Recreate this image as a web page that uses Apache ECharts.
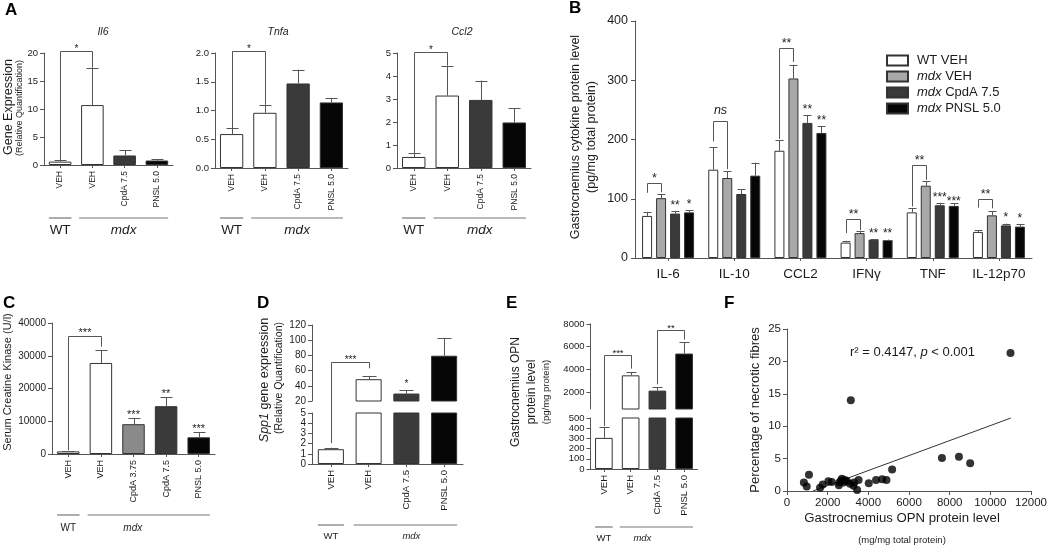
<!DOCTYPE html>
<html>
<head>
<meta charset="utf-8">
<script src="https://cdn.jsdelivr.net/npm/echarts@6/dist/echarts.min.js"></script>
<style>
html,body{margin:0;padding:0;background:#ffffff;}
#c{width:1050px;height:548px;}
</style>
</head>
<body>
<div id="c"></div>
<script>
// ---------------- DATA ----------------
// Panel A: gene expression (relative quantification), mean and SEM
const geneCats = ['VEH', 'VEH', 'CpdA 7.5', 'PNSL 5.0'];
const il6Mean = [0.6, 10.7, 1.7, 0.8];
const il6Sem = [0.3, 6.7, 0.9, 0.25];
const tnfaMean = [0.59, 0.96, 1.47, 1.14];
const tnfaSem = [0.10, 0.14, 0.24, 0.08];
const ccl2Mean = [0.48, 3.15, 2.96, 1.98];
const ccl2Sem = [0.18, 1.30, 0.84, 0.62];

// Panel B: cytokine protein level (pg/mg total protein)
const cytoCats = ['IL-6', 'IL-10', 'CCL2', 'IFNγ', 'TNF', 'IL-12p70'];
const cytoGroups = ['WT VEH', 'mdx VEH', 'mdx CpdA 7.5', 'mdx PNSL 5.0'];
const wtVehMean = [71, 149, 181, 26, 77, 44];
const wtVehSem = [6, 38, 18, 3, 7, 3];
const mdxVehMean = [101, 135, 303, 42, 122, 72];
const mdxVehSem = [7, 11, 23, 3, 8, 7];
const mdxCpdaMean = [75, 108, 228, 31, 89, 55];
const mdxCpdaSem = [4, 8, 13, 1, 4, 3];
const mdxPnslMean = [77, 139, 211, 30, 88, 53];
const mdxPnslSem = [4, 22, 11, 1, 4, 4];
const cytoStars = [['**', '*'], ['', ''], ['**', '**'], ['**', '**'], ['***', '***'], ['*', '*']];

// Panel C: serum creatine kinase (U/l)
const ckCats = ['VEH', 'VEH', 'CpdA 3.75', 'CpdA 7.5', 'PNSL 5.0'];
const ckMean = [800, 27800, 9100, 14600, 5100];
const ckSem = [200, 3900, 1900, 2700, 1500];
const ckStars = ['', '', '***', '**', '***'];

// Panel D: Spp1 gene expression
const spp1Cats = ['VEH', 'VEH', 'CpdA 7.5', 'PNSL 5.0'];
const spp1Mean = [1.45, 48.7, 29.8, 79.6];
const spp1Sem = [0.15, 4.3, 4.4, 23.0];
const spp1Stars = ['', '', '*', ''];

// Panel E: OPN protein level
const opnCats = ['VEH', 'VEH', 'CpdA 7.5', 'PNSL 5.0'];
const opnMean = [305, 3470, 2120, 5390];
const opnSem = [105, 295, 320, 1020];
const opnUpperTicks = [2000, 4000, 6000, 8000];

// Panel F: necrotic fibres vs OPN
const necrosisPoints = [
  [830, 1.3], [970, 0.7], [1080, 2.5], [1625, 0.5], [1760, 1.0], [2035, 1.5],
  [2200, 1.4], [2550, 0.9], [2575, 1.3], [2650, 1.6], [2700, 1.9], [2780, 1.3],
  [2850, 1.7], [2950, 1.5], [3100, 1.1], [3138, 14.0], [3270, 0.8], [3300, 1.3],
  [3450, 0.15], [3520, 1.7], [4020, 1.2], [4380, 1.7], [4680, 1.8], [4890, 1.7],
  [5170, 3.3], [7620, 5.1], [8455, 5.3], [9008, 4.3], [10992, 21.3]
];
const regressionLine = [[1270, 0], [11000, 11.25]];

// Significance brackets: [grid of top, top value, [grid, cat, slot, leg bottom value] x2, label]
const sigBrackets = [
  [0, 20.3, [0, 0, null, 0.9], [0, 1, null, 17.4], '*'],
  [1, 2.03, [1, 0, null, 0.69], [1, 1, null, 1.10], '*'],
  [2, 5.06, [2, 0, null, 0.66], [2, 1, null, 4.45], '*'],
  [3, 127, [3, 0, 0, 110], [3, 0, 1, 111], '*'],
  [3, 232, [3, 1, 0, 197], [3, 1, 1, 150], 'ns'],
  [3, 354, [3, 2, 0, 201], [3, 2, 1, 331], '**'],
  [3, 65, [3, 3, 0, 42], [3, 3, 1, 47], '**'],
  [3, 157, [3, 4, 0, 87], [3, 4, 1, 132], '**'],
  [3, 100, [3, 5, 0, 85], [3, 5, 1, 84], '**'],
  [4, 35900, [4, 0, null, 1200], [4, 1, null, 32800], '***'],
  [5, 71.6, [6, 0, null, 2.05], [5, 1, null, 63], '***'],
  [7, 5300, [8, 0, null, 420], [7, 1, null, 4065], '***'],
  [7, 7500, [7, 2, null, 2680], [7, 3, null, 6620], '**']
];

// ---------------- STYLE / LAYOUT ----------------
const FONT = '"Liberation Sans", Arial, Helvetica, sans-serif';
const INK = '#1c1c1c';
const AXC = '#555555';
const WHITE = '#ffffff', GREY = '#a8a8a8', MIDGREY = '#8a8a8a', DARK = '#3a3a3a', BLACK = '#060606';
const geneColors = [WHITE, WHITE, DARK, BLACK];
const ckColors = [WHITE, WHITE, MIDGREY, DARK, BLACK];
const groupColors = [WHITE, GREY, DARK, BLACK];
const plain = function (v) { return String(v); };

const gridRects = [
  {left: 44, top: 53, width: 129, height: 112},     // 0 A Il6
  {left: 215, top: 53, width: 133, height: 115},    // 1 A Tnfa
  {left: 397, top: 53, width: 134, height: 115},    // 2 A Ccl2
  {left: 635, top: 21, width: 397, height: 237},    // 3 B
  {left: 52, top: 323, width: 163, height: 131},    // 4 C
  {left: 312, top: 325, width: 151, height: 76},    // 5 D upper
  {left: 312, top: 413, width: 151, height: 51},    // 6 D lower
  {left: 590.5, top: 324, width: 107, height: 85},  // 7 E upper
  {left: 590.5, top: 418, width: 107, height: 51},  // 8 E lower
  {left: 787, top: 329, width: 246, height: 162}    // 9 F
];
const BAR_SLOT = 14; // panel B: barWidth 10 + gap 4
function slotOffset(s) { return s == null ? 0 : (s - 1.5) * BAR_SLOT; }

function yAx(g, min, max, interval, fs, extra) {
  return Object.assign({
    type: 'value', gridIndex: g, min: min, max: max, interval: interval,
    axisLine: {show: true, lineStyle: {color: AXC, width: 1}},
    axisTick: {show: true, length: 4, lineStyle: {color: AXC}},
    splitLine: {show: false},
    axisLabel: {fontSize: fs, color: INK, fontFamily: FONT, margin: 6, formatter: plain}
  }, extra || {});
}
function xCat(g, cats, fs, show) {
  return {
    type: 'category', gridIndex: g, data: cats, show: show !== false,
    axisLine: {show: true, onZero: false, lineStyle: {color: AXC, width: 1}},
    axisTick: {show: true, alignWithLabel: true, length: 3, lineStyle: {color: AXC}},
    axisLabel: {rotate: 90, fontSize: fs, color: INK, fontFamily: FONT, margin: 6, interval: 0}
  };
}
function barSeries(g, means, colors, width) {
  return {
    type: 'bar', xAxisIndex: g, yAxisIndex: g, barWidth: width, clip: true, silent: true, animation: false,
    data: means.map(function (v, i) {
      return {value: v, itemStyle: {color: colors[i], borderColor: '#333333', borderWidth: 1}};
    })
  };
}
function errSeries(g, means, sems, offset, capHalf, lo, hi) {
  return {
    type: 'custom', xAxisIndex: g, yAxisIndex: g, z: 5, silent: true, animation: false, clip: false,
    encode: {x: 0, y: 1},
    data: means.map(function (m, i) { return [i, m, sems[i]]; }),
    renderItem: function (params, api) {
      var i = api.value(0), m = api.value(1), s = api.value(2), t = m + s;
      if (m < lo || t > hi + 1e-9) return null;
      var p0 = api.coord([i, m]), p1 = api.coord([i, t]);
      var x = Math.round(p0[0] + offset) + 0.5;
      return {type: 'group', children: [
        {type: 'line', shape: {x1: x, y1: p0[1], x2: x, y2: p1[1]}, style: {stroke: AXC, lineWidth: 1}},
        {type: 'line', shape: {x1: x - capHalf, y1: Math.round(p1[1]) + 0.5, x2: x + capHalf, y2: Math.round(p1[1]) + 0.5}, style: {stroke: AXC, lineWidth: 1}}
      ]};
    }
  };
}

const xAxes = [
  xCat(0, geneCats, 8.5), xCat(1, geneCats, 8.5), xCat(2, geneCats, 8.5),
  Object.assign(xCat(3, cytoCats, 13.5), {axisLabel: {rotate: 0, fontSize: 13.5, color: INK, fontFamily: FONT, margin: 9, interval: 0}}),
  xCat(4, ckCats, 9), xCat(5, spp1Cats, 9.5, false), xCat(6, spp1Cats, 9.5),
  xCat(7, opnCats, 9.5, false), xCat(8, opnCats, 9.5),
  {type: 'value', gridIndex: 9, min: 0, max: 12000, interval: 2000,
   axisLine: {show: true, onZero: false, lineStyle: {color: AXC}}, axisTick: {show: true, length: 4, lineStyle: {color: AXC}},
   splitLine: {show: false}, axisLabel: {fontSize: 11.5, color: INK, fontFamily: FONT, margin: 6, formatter: plain}}
];
const yAxes = [
  yAx(0, 0, 20, 5, 9.5),
  yAx(1, 0, 2, 0.5, 9.5, {axisLabel: {fontSize: 9.5, color: INK, fontFamily: FONT, margin: 6, formatter: function (v) { return v.toFixed(1); }}}),
  yAx(2, 0, 5, 1, 9.5),
  yAx(3, 0, 400, 100, 12.5, {axisLabel: {fontSize: 12.5, color: INK, fontFamily: FONT, margin: 7, formatter: plain}}),
  yAx(4, 0, 40000, 10000, 10),
  yAx(5, 20, 120, 20, 10),
  yAx(6, 0, 5, 1, 10),
  yAx(7, 500, 8000, 500, 9.5, {
    axisLabel: {fontSize: 9.5, color: INK, fontFamily: FONT, margin: 6, customValues: opnUpperTicks,
      formatter: function (v) { return opnUpperTicks.indexOf(v) >= 0 ? String(v) : ''; }},
    axisTick: {show: true, length: 4, lineStyle: {color: AXC}, customValues: opnUpperTicks}
  }),
  yAx(8, 0, 500, 100, 9.5),
  yAx(9, 0, 25, 5, 11.5)
];

const series = [
  barSeries(0, il6Mean, geneColors, '70%'), errSeries(0, il6Mean, il6Sem, 0, 6, 0, 20),
  barSeries(1, tnfaMean, geneColors, '70%'), errSeries(1, tnfaMean, tnfaSem, 0, 6, 0, 2),
  barSeries(2, ccl2Mean, geneColors, '70%'), errSeries(2, ccl2Mean, ccl2Sem, 0, 6, 0, 5),
  barSeries(4, ckMean, ckColors, '69%'), errSeries(4, ckMean, ckSem, 0, 6, 0, 40000),
  barSeries(5, spp1Mean, geneColors, '69%'), errSeries(5, spp1Mean, spp1Sem, 0, 7, 20, 120),
  barSeries(6, spp1Mean, geneColors, '69%'), errSeries(6, spp1Mean, spp1Sem, 0, 7, 0, 5),
  barSeries(7, opnMean, geneColors, '66%'), errSeries(7, opnMean, opnSem, 0, 5, 500, 8000),
  barSeries(8, opnMean, geneColors, '66%'), errSeries(8, opnMean, opnSem, 0, 5, 0, 500),
  {type: 'scatter', xAxisIndex: 9, yAxisIndex: 9, data: necrosisPoints, symbolSize: 8,
   itemStyle: {color: '#000000'}, silent: true, animation: false, z: 4},
  {type: 'line', xAxisIndex: 9, yAxisIndex: 9, data: regressionLine, showSymbol: false, symbol: 'none',
   lineStyle: {color: '#333333', width: 1}, silent: true, animation: false, z: 3}
];
const cytoMeans = [wtVehMean, mdxVehMean, mdxCpdaMean, mdxPnslMean];
const cytoSems = [wtVehSem, mdxVehSem, mdxCpdaSem, mdxPnslSem];
cytoGroups.forEach(function (name, k) {
  series.push({
    type: 'bar', name: name, xAxisIndex: 3, yAxisIndex: 3, barWidth: 10, barGap: '40%', silent: true, animation: false,
    itemStyle: {color: groupColors[k], borderColor: '#333333', borderWidth: 1},
    data: cytoMeans[k]
  });
});
cytoGroups.forEach(function (name, k) {
  series.push(errSeries(3, cytoMeans[k], cytoSems[k], slotOffset(k), 4, 0, 400));
});

const option = {
  backgroundColor: '#ffffff',
  animation: false,
  textStyle: {fontFamily: FONT},
  grid: gridRects.map(function (r) { return Object.assign({containLabel: false}, r); }),
  xAxis: xAxes,
  yAxis: yAxes,
  legend: {
    data: cytoGroups, orient: 'vertical', left: 886, top: 54, padding: 0, itemWidth: 21, itemHeight: 10, itemGap: 3,
    icon: 'rect', selectedMode: false,
    textStyle: {fontSize: 13, color: INK, fontFamily: FONT, padding: [0, 0, 0, 4],
      rich: {i: {fontStyle: 'italic', fontSize: 13, color: INK, fontFamily: FONT}, n: {fontSize: 13, color: INK, fontFamily: FONT}}},
    formatter: function (n) { return n.indexOf('mdx') === 0 ? '{i|mdx}{n|' + n.slice(3) + '}' : '{n|' + n + '}'; }
  },
  series: series
};

const chart = echarts.init(document.getElementById('c'), null, {renderer: 'canvas'});
chart.setOption(option);

// ---------------- ANNOTATIONS (positioned via the chart's own scales) ----------------
function P(g, x, y) { return chart.convertToPixel({xAxisIndex: g, yAxisIndex: g}, [x, y]); }
function txt(x, y, text, fs, o) {
  o = o || {};
  return {type: 'text', x: x, y: y, rotation: o.rot || 0, silent: true, z: 60,
    style: {text: text, fontSize: fs, fontFamily: FONT, fill: o.color || INK,
      fontStyle: o.italic ? 'italic' : 'normal', fontWeight: o.bold ? 'bold' : 'normal',
      textAlign: o.align || 'center', align: o.align || 'center',
      textVerticalAlign: o.va || 'middle', verticalAlign: o.va || 'middle', rich: o.rich}};
}
function seg(x1, y1, x2, y2, color, w) {
  return {type: 'line', silent: true, z: 55, shape: {x1: x1, y1: y1, x2: x2, y2: y2}, style: {stroke: color || AXC, lineWidth: w || 1}};
}
function star(x, cy, text, fs) {
  if (text === 'ns') return txt(x, cy, text, fs, {italic: true});
  return txt(x, cy + 0.24 * fs, text, fs);
}
const els = [];

// brackets
const bracketStyle = {0: [10, 5], 1: [10, 5], 2: [10, 5], 3: [12.5, 8], 4: [11, 6.5], 5: [10, 5], 7: [9.5, 4.5]};
sigBrackets.forEach(function (b) {
  var gt = b[0], topV = b[1], A = b[2], B = b[3], lab = b[4];
  var xa = Math.round(P(A[0], A[1], 0)[0] + slotOffset(A[2])) + 0.5;
  var xb = Math.round(P(B[0], B[1], 0)[0] + slotOffset(B[2])) + 0.5;
  var ya = P(A[0], A[1], A[3])[1], yb = P(B[0], B[1], B[3])[1];
  var yt = Math.round(P(gt, 0, topV)[1]) + 0.5;
  els.push({type: 'polyline', silent: true, z: 55, shape: {points: [[xa, ya], [xa, yt], [xb, yt], [xb, yb]]},
    style: {stroke: AXC, lineWidth: 1, fill: null}});
  var st = bracketStyle[gt];
  var gap = lab === 'ns' ? 11 : st[1];
  els.push(star((xa + xb) / 2, yt - gap, lab, st[0]));
});
// stars above bars, panel B
cytoStars.forEach(function (pair, c) {
  pair.forEach(function (lab, j) {
    if (!lab) return;
    var k = j + 2;
    var p = P(3, c, cytoMeans[k][c] + cytoSems[k][c]);
    els.push(star(p[0] + slotOffset(k), p[1] - 8.5 + (lab === '***' && j === 1 ? 4 : 0), lab, 12));
  });
});
ckStars.forEach(function (lab, i) {
  if (!lab) return;
  var p = P(4, i, ckMean[i] + ckSem[i]);
  els.push(star(p[0], p[1] - 6, lab, 11));
});
spp1Stars.forEach(function (lab, i) {
  if (!lab) return;
  var p = P(5, i, spp1Mean[i] + spp1Sem[i]);
  els.push(star(p[0], p[1] - 8, lab, 10));
});

// WT / mdx group rules
const groupLayout = [
  {g: 0, n: 4, ratio: 0.70, lineY: 218, textY: 230, fs: 13.5, dx: 0},
  {g: 1, n: 4, ratio: 0.70, lineY: 218, textY: 230, fs: 13.5, dx: 0},
  {g: 2, n: 4, ratio: 0.70, lineY: 218, textY: 230, fs: 13.5, dx: 0},
  {g: 4, n: 5, ratio: 0.69, lineY: 515, textY: 528, fs: 10, dx: -16},
  {g: 6, n: 4, ratio: 0.69, lineY: 525, textY: 536, fs: 9.5, dx: 6},
  {g: 8, n: 4, ratio: 0.66, lineY: 527, textY: 538, fs: 9.5, dx: -14}
];
groupLayout.forEach(function (L) {
  var cw = gridRects[L.g].width / L.n, hb = cw * L.ratio / 2;
  var c0 = P(L.g, 0, 0)[0], c1 = P(L.g, 1, 0)[0], cn = P(L.g, L.n - 1, 0)[0];
  els.push(seg(c0 - hb, L.lineY, c0 + hb, L.lineY, '#777777', 1.2));
  els.push(seg(c1 - hb - 2, L.lineY, cn + hb, L.lineY, '#777777', 1.2));
  els.push(txt(c0, L.textY, 'WT', L.fs));
  els.push(txt((c1 - hb - 2 + cn + hb) / 2 + L.dx, L.textY, 'mdx', L.fs, {italic: true}));
});

// panel letters
[['A', 5, 2], ['B', 569, 0], ['C', 3, 295], ['D', 257, 295], ['E', 506, 295], ['F', 724, 295]].forEach(function (a) {
  els.push(txt(a[1], a[2], a[0], 17, {bold: true, align: 'left', va: 'top', color: '#000'}));
});
// panel A titles
els.push(txt(103, 32, 'Il6', 10.5, {italic: true}));
els.push(txt(278, 32, 'Tnfa', 10.5, {italic: true}));
els.push(txt(462, 32, 'Ccl2', 10.5, {italic: true}));
// axis names
var R = Math.PI / 2;
els.push(txt(9, 107, 'Gene Expression', 12.5, {rot: R}));
els.push(txt(20, 108, '(Relative Quantification)', 9, {rot: R}));
els.push(txt(576, 137, 'Gastrocnemius cytokine protein level', 12.5, {rot: R}));
els.push(txt(592, 137, '(pg/mg total protein)', 12.5, {rot: R}));
els.push(txt(8, 382, 'Serum Creatine Kinase (U/l)', 11, {rot: R}));
els.push(txt(265, 380, '{i|Spp1} gene expression', 12.5, {rot: R, rich: {i: {fontStyle: 'italic', fontSize: 12.5, fontFamily: FONT, fill: INK}}}));
els.push(txt(279, 378, '(Relative Quantification)', 10.5, {rot: R}));
els.push(txt(516, 392, 'Gastrocnemius OPN', 12, {rot: R}));
els.push(txt(532, 392, 'protein level', 12, {rot: R}));
els.push(txt(546, 392, '(pg/mg protein)', 9.5, {rot: R}));
els.push(txt(755, 410, 'Percentage of necrotic fibres', 13, {rot: R}));
els.push(txt(902, 518, 'Gastrocnemius OPN protein level', 13.2));
els.push(txt(902, 540, '(mg/mg total protein)', 9.5));
els.push(txt(850, 352, '{n|r² = 0.4147, }{i|p}{n| < 0.001}', 13, {align: 'left',
  rich: {n: {fontSize: 13, fontFamily: FONT, fill: INK}, i: {fontSize: 13, fontFamily: FONT, fontStyle: 'italic', fill: INK}}}));

chart.setOption({graphic: {elements: els}});
</script>
</body>
</html>
